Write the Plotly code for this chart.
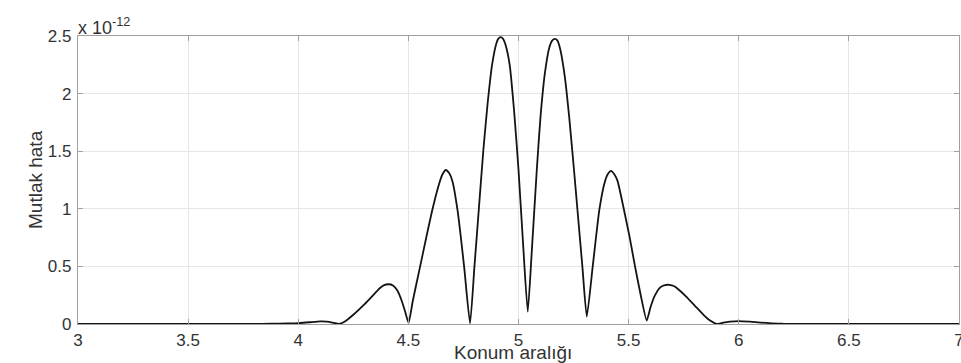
import plotly.graph_objects as go

# Position (Konum aralığı) and absolute error in units of 1e-12
konum = [3.00, 3.50, 3.80, 3.88, 3.95, 4.00, 4.05, 4.10, 4.13, 4.16,
         4.185, 4.21, 4.25, 4.30, 4.34, 4.37, 4.39, 4.41, 4.43, 4.45,
         4.47, 4.485, 4.501, 4.52, 4.55, 4.58, 4.61, 4.64, 4.655, 4.67,
         4.685, 4.70, 4.723, 4.753, 4.78, 4.80, 4.82, 4.84, 4.86, 4.88, 4.90,
         4.908, 4.919, 4.93, 4.94, 4.96, 4.98, 5.00, 5.02, 5.042, 5.06,
         5.083, 5.10, 5.12, 5.14, 5.153, 5.165, 5.177, 5.19, 5.21, 5.23,
         5.252, 5.27, 5.29, 5.31, 5.337, 5.367, 5.39, 5.405, 5.42, 5.435,
         5.45, 5.479, 5.505, 5.529, 5.555, 5.582, 5.60, 5.62, 5.645, 5.665,
         5.685, 5.705, 5.72, 5.76, 5.80, 5.84, 5.87, 5.90, 5.93, 5.96,
         6.00, 6.05, 6.10, 6.15, 6.20, 6.30, 7.00]
mutlak_hata = [0.0, 0.0, 0.0, 0.002, 0.005, 0.008, 0.015, 0.022, 0.020, 0.010,
               0.0, 0.02, 0.08, 0.17, 0.25, 0.31, 0.337, 0.345, 0.335, 0.29,
               0.20, 0.11, 0.01, 0.20, 0.47, 0.74, 1.00, 1.22, 1.30, 1.337,
               1.31, 1.24, 0.99, 0.50, 0.005, 0.50, 1.00, 1.50, 1.92, 2.25, 2.44,
               2.475, 2.49, 2.475, 2.43, 2.25, 1.85, 1.34, 0.72, 0.107, 0.62,
               1.337, 1.80, 2.18, 2.40, 2.46, 2.475, 2.46, 2.38, 2.15, 1.80,
               1.337, 0.94, 0.50, 0.063, 0.50, 0.99, 1.22, 1.30, 1.33, 1.30,
               1.24, 0.99, 0.75, 0.50, 0.25, 0.03, 0.15, 0.25, 0.32, 0.338,
               0.34, 0.33, 0.31, 0.24, 0.16, 0.08, 0.03, 0.0, 0.012, 0.02,
               0.025, 0.02, 0.012, 0.006, 0.002, 0.0, 0.0]

x_ticks = [3, 3.5, 4, 4.5, 5, 5.5, 6, 6.5, 7]
x_tick_text = ["3", "3.5", "4", "4.5", "5", "5.5", "6", "6.5", "7"]
y_ticks = [0, 0.5, 1, 1.5, 2, 2.5]
y_tick_text = ["0", "0.5", "1", "1.5", "2", "2.5"]

FONT = "Liberation Sans, Arial, Helvetica, sans-serif"
TXT = "#333333"
AX = "#a0a0a0"
GRID = "#e6e6e6"

fig = go.Figure()
fig.add_trace(go.Scatter(x=konum, y=mutlak_hata, mode="lines",
                         line=dict(color="#141414", width=1.8,
                                   shape="spline", smoothing=0.5),
                         showlegend=False, hoverinfo="skip"))

axis_common = dict(showline=True, linecolor=AX, linewidth=1.2, mirror="ticks",
                   ticks="inside", ticklen=5, tickcolor=AX, tickwidth=1,
                   showgrid=True, gridcolor=GRID, gridwidth=1, zeroline=False,
                   ticklabeloverflow="allow",
                   tickfont=dict(family=FONT, size=17, color=TXT))

fig.update_xaxes(range=[3, 7], tickvals=x_ticks, ticktext=x_tick_text,
                 ticklabelstandoff=0, **axis_common)
fig.update_yaxes(range=[0, 2.5], tickvals=y_ticks, ticktext=y_tick_text,
                 ticklabelstandoff=2, **axis_common)

W, H = 961, 363
L, R, T, B = 78, 2, 36, 39
pw, ph = W - L - R, H - T - B

def px_x(p):
    return (p - L) / pw

def px_y(p):
    return (H - B - p) / ph

fig.add_annotation(text="Konum aralığı", xref="paper", yref="paper",
                   x=px_x(513), y=px_y(352), xanchor="center", yanchor="middle",
                   showarrow=False, font=dict(family=FONT, size=19, color=TXT))
fig.add_annotation(text="Mutlak hata", xref="paper", yref="paper",
                   x=px_x(35), y=px_y(180), xanchor="center", yanchor="middle",
                   textangle=-90, showarrow=False,
                   font=dict(family=FONT, size=19, color=TXT))
fig.add_annotation(text="x 10<sup>-12</sup>", xref="paper", yref="paper",
                   x=px_x(76), y=px_y(40), xanchor="left", yanchor="bottom",
                   showarrow=False, font=dict(family=FONT, size=18, color=TXT))

fig.update_layout(width=W, height=H,
                  margin=dict(l=L, r=R, t=T, b=B, pad=0, autoexpand=False),
                  plot_bgcolor="white", paper_bgcolor="white")

fig.write_html("out.html", config={"displayModeBar": False},
               post_script="document.body.style.margin='0';document.body.style.padding='0';")
